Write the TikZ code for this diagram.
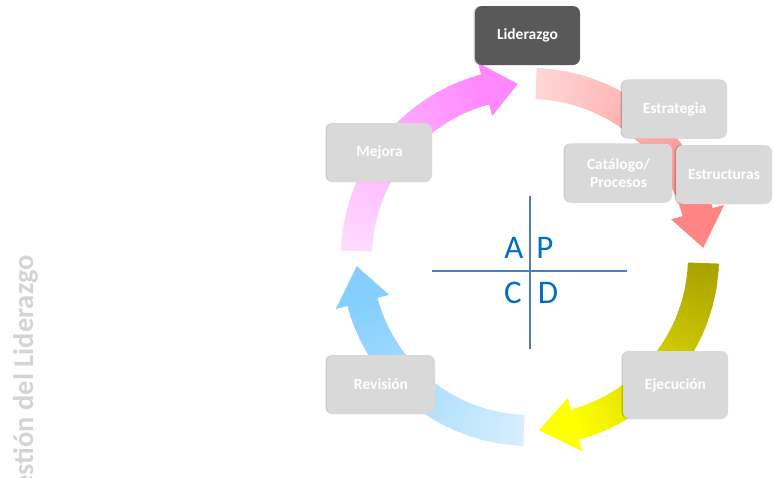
\documentclass[tikz,border=0pt]{standalone}
\usepackage{fontspec}
\setmainfont{Carlito}
\usetikzlibrary{shadows}

\definecolor{boxgray}{HTML}{D9D9D9}
\definecolor{leadgray}{HTML}{595959}
\definecolor{titlegray}{HTML}{D4D4D4}
\definecolor{crossblue}{HTML}{4A7EBB}
\definecolor{letterblue}{HTML}{0070C0}
\definecolor{redA}{HTML}{FFD6D6}
\definecolor{redB}{HTML}{FF8585}
\definecolor{yellowA}{HTML}{ABA200}
\definecolor{yellowB}{HTML}{FFFF00}
\definecolor{blueA}{HTML}{D6EEFD}
\definecolor{blueB}{HTML}{85CFFD}
\definecolor{pinkA}{HTML}{FFDAFF}
\definecolor{pinkB}{HTML}{FF88FF}

% one arc of the cycle: start angle, head base, tip, colour at start, colour at head
\newcommand{\cyclearrow}[5]{%
  \foreach \i in {0,...,39} {
    \pgfmathsetmacro{\a}{#1+(#2-#1)*\i/40}
    \pgfmathsetmacro{\b}{#1+(#2-#1)*(\i+1)/40+0.5}
    \pgfmathtruncatemacro{\p}{100*\i/39}
    \fill[#5!\p!#4] (\a:158) -- (\a:189) -- (\b:189) -- (\b:158) -- cycle;
  }
  \fill[#5] (#2:146) -- (#3:173.5) -- (#2:201) -- cycle;
}

\begin{document}
\begin{tikzpicture}[x=1pt, y=-1pt,
    stage/.style={rounded corners=7pt, fill=boxgray, text=white, align=center,
      font=\fontsize{15.5}{18}\selectfont\bfseries, inner sep=0pt,
      minimum width=105pt, minimum height=59pt,
      drop shadow={shadow xshift=-1.5pt, shadow yshift=0pt, fill=black, opacity=0.2}},
    pdca/.style={text=letterblue, font=\fontsize{33}{36}\selectfont, anchor=base, inner sep=0pt}]
    \useasboundingbox (0,0) rectangle (774,477);
    \clip (0,0) rectangle (774,477);

    % the four arcs of the cycle
    \begin{scope}[shift={(530,257)}]
        \cyclearrow{-88}{-15}{-3}{redA}{redB}
        \cyclearrow{2}{75}{87}{yellowA}{yellowB}
        \cyclearrow{92}{165}{177}{blueA}{blueB}
        \cyclearrow{182}{255}{266}{pinkA}{pinkB}
    \end{scope}

    % stages
    \node[stage, fill=leadgray] (lead) at (527.5,35.5) {Liderazgo};
    \node[stage] (strat) at (674.5,109) {Estrategia};
    \node[stage, minimum width=107pt] (cat) at (618.5,173) {Catálogo/\\Procesos};
    \node[stage, minimum width=96pt] (struct) at (724,174.5) {Estructuras};
    \node[stage, minimum height=68pt] (exec) at (675.5,385) {Ejecución};
    \node[stage, minimum width=108pt] (rev) at (381,384.5) {Revisión};
    \node[stage] (imp) at (379.5,152.5) {Mejora};

    % PDCA cross
    \coordinate (W) at (432,271);
    \coordinate (E) at (627,271);
    \coordinate (N) at (530,196);
    \coordinate (S) at (530,349);
    \draw[crossblue, line width=1.3pt] (W) -- (E);
    \draw[crossblue, line width=1.3pt] (N) -- (S);
    \node[pdca] (act) at (514,258) {A};
    \node[pdca] (plan) at (545,258) {P};
    \node[pdca] (check) at (513,303) {C};
    \node[pdca] (do) at (548,303) {D};

    % side title
    \node[rotate=90, anchor=base east, inner sep=0pt, text=titlegray,
        font=\fontsize{28.5}{31}\selectfont\bfseries] (title) at (33,255)
        {Gestión del Liderazgo};
\end{tikzpicture}
\end{document}
